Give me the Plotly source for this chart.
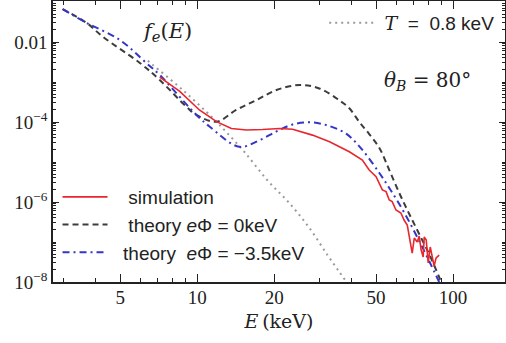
import plotly.graph_objects as go

# ---- data (E in keV, f_e(E)) ----
E_th0 = [2.98, 3.70, 4.28, 5.97, 7.14, 9.08, 9.93, 11.9, 14.2, 17.0, 20.4, 25.1, 30.0,
         35.9, 39.3, 43.0, 47.0, 51.5, 56.3, 61.6, 67.4, 73.7, 80.6, 88.2, 90.5]
f_th0 = [0.066, 0.030, 0.0135, 3.0e-3, 1.12e-3, 2.4e-4, 1.5e-4, 1.02e-4, 2.0e-4, 3.5e-4,
         6.3e-4, 8.4e-4, 6.9e-4, 3.5e-4, 2.2e-4, 1.0e-4, 5.0e-5, 2.24e-5, 6.3e-6, 1.68e-6,
         5.0e-7, 1.58e-7, 5.0e-8, 1.33e-8, 8.9e-9]

E_th35 = [2.98, 3.70, 4.99, 6.34, 7.14, 8.78, 9.93, 11.2, 14.6, 17.5, 20.4, 23.6, 27.5,
          31.9, 38.2, 44.2, 51.5, 56.3, 61.6, 67.4, 73.7, 80.6, 88.2]
f_th35 = [0.066, 0.030, 0.0112, 2.95e-3, 1.5e-3, 3.5e-4, 1.5e-4, 7.6e-5, 2.4e-5, 3.5e-5,
          5.8e-5, 8.7e-5, 9.8e-5, 8.4e-5, 5.1e-5, 2.0e-5, 5.3e-6, 2.24e-6, 8.9e-7, 3.2e-7,
          1.06e-7, 3.35e-8, 1.0e-8]

E_sim = [7.14, 8.55, 10.2, 11.9, 13.6, 15.6, 18.0, 21.0, 23.6, 28.2, 32.9, 35.9, 39.3,
         44.2, 47.0, 50.0, 52.9, 54.7, 56.3, 57.8, 59.8, 62.5, 64.4, 66.2, 67.4, 69.2,
         70.5, 72.4, 73.7, 75.0, 76.4, 77.1, 78.5, 79.9, 81.4, 82.8, 84.3, 85.8, 88.2]
f_sim = [1.33e-3, 5.8e-4, 2.0e-4, 1.02e-4, 6.9e-5, 6.3e-5, 6.5e-5, 6.9e-5, 6.6e-5, 4.7e-5,
         3.2e-5, 2.4e-5, 1.8e-5, 1.12e-5, 6.3e-6, 4.3e-6, 2.0e-6, 1.82e-6, 1.12e-6, 1.02e-6,
         6.3e-7, 5.3e-7, 3.5e-7, 2.66e-7, 1.33e-7, 5.3e-8, 1.26e-7, 1.0e-7, 1.41e-7, 6.3e-8,
         4.2e-8, 1.33e-7, 1.12e-7, 3.0e-8, 7.5e-8, 4.7e-8, 2.5e-8, 4.0e-8, 4.7e-8]

E_max = [6.41, 6.71, 8.78, 11.5, 13.0, 15.3, 18.8, 22.9, 27.5, 32.3, 35.9, 38.3]
f_max = [3.4e-3, 2.66e-3, 6.3e-4, 1.26e-4, 5.6e-5, 1.78e-5, 3.5e-6, 9.4e-7, 2.2e-7,
         4.7e-8, 1.8e-8, 1.0e-8]

x_ticks = [5, 10, 20, 50, 100]
x_ticktext = ["5", "10", "20", "50", "100"]
y_ticks = [1e-8, 1e-6, 1e-4, 1e-2]
y_ticktext = ["10<sup>−8</sup>", "10<sup>−6</sup>", "10<sup>−4</sup>", "0.01"]

SERIF = "Liberation Serif"
MATH = "DejaVu Serif"
SANS = "Liberation Sans"
NB = "\u00a0"

fig = go.Figure()
fig.add_trace(go.Scatter(x=E_max, y=f_max, mode="lines", line=dict(color="#9a9a9a", width=2, dash="2px,4px", shape="spline"),
                         name=f"{NB}<span style='font-family:DejaVu Serif'><i>T</i></span>{NB} = {NB}0.8 keV", legend="legend2"))
fig.add_trace(go.Scatter(x=E_th0, y=f_th0, mode="lines", line=dict(color="#3c3c3c", width=2, dash="6px,4px", shape="spline"),
                         name=f"{NB}{NB}{NB}theory <i>e</i>Φ = 0keV", legendrank=2))
fig.add_trace(go.Scatter(x=E_th35, y=f_th35, mode="lines", line=dict(color="#3535c8", width=2, dash="7px,4px,2px,4px", shape="spline"),
                         name=f"{NB}{NB}theory {NB}<i>e</i>Φ = −3.5keV", legendrank=3))
fig.add_trace(go.Scatter(x=E_sim, y=f_sim, mode="lines", line=dict(color="#e8262e", width=1.6),
                         name=f"{NB}{NB}{NB}simulation", legendrank=1))

axis_common = dict(showline=True, linecolor="#222", linewidth=1.5, mirror="allticks", ticks="inside",
                   showgrid=False, zeroline=False, tickcolor="#222", automargin=False,
                   tickfont=dict(family=SERIF, size=19, color="#222"))
fig.update_xaxes(type="log", range=[0.4366, 2.2027], tickvals=x_ticks, ticktext=x_ticktext, ticklen=8, tickwidth=1.3,
                 ticklabelstandoff=-3,
                 minor=dict(ticks="inside", dtick="D1", ticklen=4, tickcolor="#222", tickwidth=1, showgrid=False),
                 title=dict(text="<i>E</i>\u2009(keV)", font=dict(family=MATH, size=19, color="#222"), standoff=8),
                 **axis_common)
fig.update_yaxes(type="log", range=[-8, -0.975], tickvals=y_ticks, ticktext=y_ticktext, ticklen=6, tickwidth=1.3,
                 minor=dict(ticks="inside", dtick="D1", ticklen=3, tickcolor="#222", tickwidth=1, showgrid=False),
                 **axis_common)

fig.add_annotation(text="<i>f</i><sub><i>e</i></sub>(<i>E</i>)", xref="paper", yref="paper", x=0.192, y=0.89,
                   xanchor="left", yanchor="middle", showarrow=False, font=dict(family=MATH, size=21, color="#222"))
fig.add_annotation(text="<i>θ</i><sub><i>B</i></sub> = 80°", xref="paper", yref="paper", x=0.728, y=0.716,
                   xanchor="left", yanchor="middle", showarrow=False, font=dict(family=MATH, size=20, color="#222"))

fig.update_layout(
    width=506, height=343, margin=dict(l=53, r=1, t=1, b=61),
    paper_bgcolor="white", plot_bgcolor="white",
    legend=dict(x=0.01, y=0.37, xanchor="left", yanchor="top", bgcolor="rgba(0,0,0,0)",
                font=dict(family=SANS, size=19, color="#222"), itemwidth=45, tracegroupgap=0, traceorder="normal"),
    legend2=dict(x=0.60, y=0.99, xanchor="left", yanchor="top", bgcolor="rgba(0,0,0,0)",
                 font=dict(family=SANS, size=19, color="#222"), itemwidth=45),
)

fig.write_html("out.html", config={"displayModeBar": False},
               post_script="document.body.style.margin='0';")
